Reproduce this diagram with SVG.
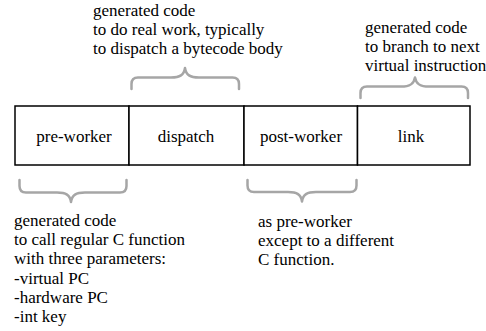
<svg xmlns="http://www.w3.org/2000/svg" width="486" height="331" viewBox="0 0 486 331">
  <style>
    text { font-family: "Liberation Serif", "Times New Roman", serif; font-size: 17px; fill: #000; }
    .mid { text-anchor: middle; }
    .cell { fill: #fff; stroke: #000; stroke-width: 1.5; }
    .brace { fill: none; stroke: #a6a6a6; stroke-width: 2.5; stroke-linecap: round; stroke-linejoin: round; }
  </style>

  <!-- instruction layout: four cells in one row -->
  <g id="pre-worker">
    <rect class="cell" x="15" y="106" width="114" height="59"/>
    <text class="mid" x="74" y="141.5" font-family="Liberation Serif">pre-worker</text>
  </g>
  <g id="dispatch">
    <rect class="cell" x="129" y="106" width="115" height="59"/>
    <text class="mid" x="186" y="141.5" font-family="Liberation Serif">dispatch</text>
  </g>
  <g id="post-worker">
    <rect class="cell" x="244" y="106" width="113.5" height="59"/>
    <text class="mid" x="301" y="141.5" font-family="Liberation Serif">post-worker</text>
  </g>
  <g id="link">
    <rect class="cell" x="357.5" y="106" width="112.5" height="59"/>
    <text class="mid" x="411" y="141.5" font-family="Liberation Serif">link</text>
  </g>

  <!-- braces tying each cell to its note -->
  <g id="connectors">
    <!-- above dispatch -->
    <path class="brace" d="M131.5,89 L131.5,84 Q131.5,77.5 138,77.5 L171,77.5 C180,77.5 184,75 185,68 C186,75 190,77.5 199,77.5 L232.5,77.5 Q239,77.5 239,84 L239,89"/>
    <!-- above link -->
    <path class="brace" d="M360.5,98 L360.5,93 Q360.5,86.5 367,86.5 L401,86.5 C410,86.5 414,84 415,77.5 C416,84 420,86.5 429,86.5 L461.5,86.5 Q468,86.5 468,93 L468,98"/>
    <!-- below pre-worker -->
    <path class="brace" d="M19.5,180 L19.5,186 Q19.5,192.5 26,192.5 L57,192.5 C66,192.5 70,195 71,202 C72,195 76,192.5 85,192.5 L120,192.5 Q126.5,192.5 126.5,186 L126.5,180"/>
    <!-- below post-worker -->
    <path class="brace" d="M247.5,180 L247.5,185.5 Q247.5,192 254,192 L288,192 C297,192 301,194.5 302,201.5 C303,194.5 307,192 316,192 L350,192 Q356.5,192 356.5,185.5 L356.5,180"/>
  </g>

  <!-- notes -->
  <g id="note-dispatch">
    <text x="93" y="16" font-family="Liberation Serif">generated code</text>
    <text x="93" y="35.2" font-family="Liberation Serif">to do real work, typically</text>
    <text x="93" y="54.4" font-family="Liberation Serif">to dispatch a bytecode body</text>
  </g>
  <g id="note-link">
    <text x="365" y="33" font-family="Liberation Serif">generated code</text>
    <text x="365" y="52.2" font-family="Liberation Serif">to branch to next</text>
    <text x="365" y="71.4" font-family="Liberation Serif">virtual instruction</text>
  </g>
  <g id="note-pre-worker">
    <text x="14" y="226" font-family="Liberation Serif">generated code</text>
    <text x="14" y="245.2" font-family="Liberation Serif">to call regular C function</text>
    <text x="14" y="264.4" font-family="Liberation Serif">with three parameters:</text>
    <text x="14" y="283.6" font-family="Liberation Serif">-virtual PC</text>
    <text x="14" y="302.8" font-family="Liberation Serif">-hardware PC</text>
    <text x="14" y="322" font-family="Liberation Serif">-int key</text>
  </g>
  <g id="note-post-worker">
    <text x="258" y="226.5" font-family="Liberation Serif">as pre-worker</text>
    <text x="258" y="245.7" font-family="Liberation Serif">except to a different</text>
    <text x="258" y="264.9" font-family="Liberation Serif">C function.</text>
  </g>
</svg>
